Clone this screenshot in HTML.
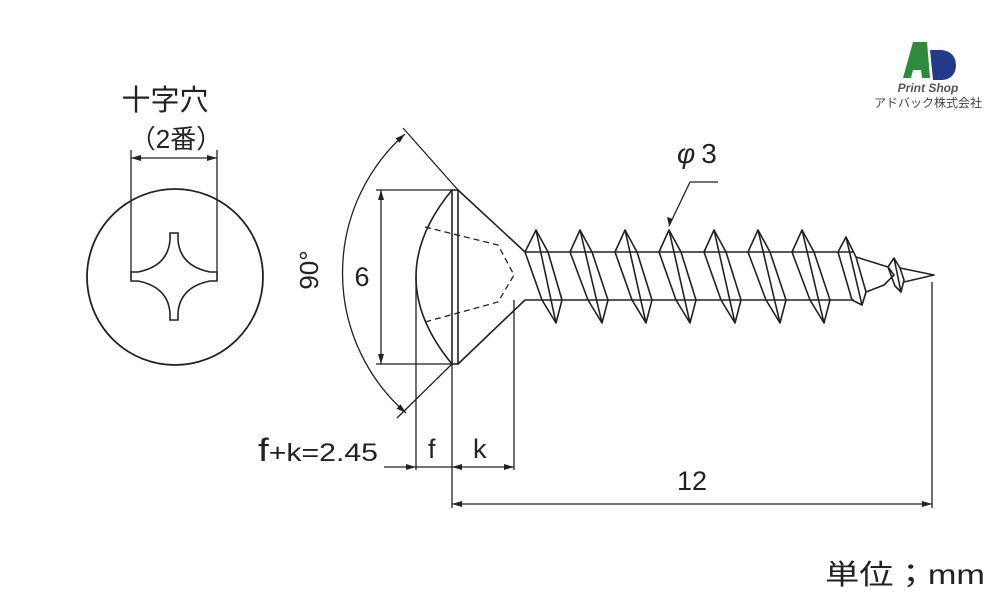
<!DOCTYPE html>
<html><head><meta charset="utf-8"><style>
body{margin:0;background:#fff}
svg{display:block}
text{font-family:"Liberation Sans","Noto Sans CJK JP",sans-serif;fill:#222}
</style></head><body>
<svg width="1000" height="600" viewBox="0 0 1000 600" xmlns="http://www.w3.org/2000/svg">
<defs>
<marker id="a" viewBox="0 0 10 6" refX="10" refY="3" markerWidth="10" markerHeight="6" orient="auto-start-reverse" markerUnits="userSpaceOnUse"><path d="M0,0 L10,3 L0,6 Z" fill="#222"/></marker>
</defs>
<g stroke="#222" fill="none" stroke-width="1.3">
<!-- left view -->
<circle cx="175" cy="277" r="88" stroke-width="1.8"/>
<path d="M170,233 L178,233 L178,240 Q180,266 210,272 L217,272 L217,281 L210,281 Q180,287 178,313 L178,320 L170,320 L170,313 Q168,287 138,281 L131,281 L131,272 L138,272 Q168,266 170,240 Z" stroke-width="1.6"/>
<line x1="131" y1="150" x2="131" y2="272"/>
<line x1="217" y1="150" x2="217" y2="272"/>
<line x1="131" y1="158" x2="217" y2="158" marker-start="url(#a)" marker-end="url(#a)"/>
<!-- head -->
<path d="M452,190 Q380,277 452,364" stroke-width="1.6"/>
<rect x="452" y="190" width="6" height="174" stroke-width="1.6"/>
<path d="M458,190 L525,252 M458,364 L525,300" stroke-width="1.6"/>
<path d="M425,227 L498,245 L514,275 L498,302 L425,322" stroke-dasharray="6,4"/>
<!-- shank -->
<path d="M525,252 L854,252 M525,300 L854,300" stroke-width="1.6"/>
<g stroke-width="1.6" stroke-linejoin="round">
<path d="M525,252 L536,230 L548,252 L562,300 L556,323 L542,300 Z M536,230 L556,323"/>
<path d="M570,252 L580,230 L592,252 L608,300 L602,323 L588,300 Z M580,230 L602,323"/>
<path d="M615,252 L625,230 L637,252 L652,300 L646,323 L632,300 Z M625,230 L646,323"/>
<path d="M659,252 L669,230 L681,252 L696,300 L690,323 L676,300 Z M669,230 L690,323"/>
<path d="M704,252 L714,230 L726,252 L741,300 L735,323 L721,300 Z M714,230 L735,323"/>
<path d="M748,252 L758,230 L770,252 L786,300 L780,323 L766,300 Z M758,230 L780,323"/>
<path d="M792,252 L802,230 L814,252 L830,300 L824,323 L810,300 Z M802,230 L824,323"/>
<path d="M838,252 L846,237 L856,257 L866,292 L862,305 L852,300 Z M846,237 L862,305"/>
<path d="M856,257 L888,267 L894,275 L884,285 L866,292"/>
<path d="M888,267 L894,258 L900,268 L904,280 L901,292 L895,286 Z M894,258 L901,292"/>
<path d="M900,268 L934,275 L904,282"/>
</g>
<!-- angle -->
<path d="M458,190 L403,128 M452,364 L397,418"/>
<path d="M405,134 A186,186 0 0 0 406,413" marker-start="url(#a)" marker-end="url(#a)"/>
<!-- 6 -->
<line x1="376" y1="190" x2="452" y2="190"/>
<line x1="376" y1="364" x2="452" y2="364"/>
<line x1="381" y1="190" x2="381" y2="364" marker-start="url(#a)" marker-end="url(#a)"/>
<!-- f k -->
<line x1="416" y1="277" x2="416" y2="470"/>
<line x1="452" y1="364" x2="452" y2="508"/>
<line x1="514" y1="300" x2="514" y2="470"/>
<line x1="384" y1="467" x2="416" y2="467" marker-end="url(#a)"/>
<line x1="416" y1="467" x2="452" y2="467"/>
<line x1="452" y1="467" x2="514" y2="467" marker-start="url(#a)" marker-end="url(#a)"/>
<!-- 12 -->
<line x1="932" y1="282" x2="932" y2="508"/>
<line x1="452" y1="504" x2="932" y2="504" marker-start="url(#a)" marker-end="url(#a)"/>
<!-- phi leader -->
<path d="M690,182 L718,182 M690,182 L669,226" />
</g>
<path d="M669,226 L667,217 L673,219 Z" fill="#222"/>
<text x="165" y="110" font-size="29" text-anchor="middle">十字穴</text>
<text x="176" y="148" font-size="26" text-anchor="middle">（2番）</text>
<text x="318" y="270" font-size="26" text-anchor="middle" transform="rotate(-90 318 270)">90°</text>
<text x="362" y="286" font-size="27" text-anchor="middle">6</text>
<text x="258" y="461" font-size="32" textLength="120" lengthAdjust="spacingAndGlyphs">f<tspan font-size="25">+k=2.45</tspan></text>
<text x="428" y="458" font-size="27">f</text>
<text x="473" y="458" font-size="27">k</text>
<text x="692" y="490" font-size="27" text-anchor="middle">12</text>
<text x="677" y="163" font-size="28" font-style="italic">φ<tspan font-style="normal" dx="6">3</tspan></text>
<text x="825" y="584" font-size="28" textLength="160" lengthAdjust="spacingAndGlyphs">単位；mm</text>
<!-- logo -->
<path d="M903,78 L913,42 L927,42 L930,78 L922,78 L921,70 L913,70 L911,78 Z" fill="#2f8a3b"/>
<path d="M930,50 L942,50 Q956,52 956,66 Q955,79 942,80 L933,80 Z" fill="#243a8a"/>
<text x="928" y="92" font-size="12" font-style="italic" font-weight="bold" text-anchor="middle" style="fill:#555">Print Shop</text>
<text x="928" y="107" font-size="12" text-anchor="middle" style="fill:#444">アドバック株式会社</text>
</svg>
</body></html>
